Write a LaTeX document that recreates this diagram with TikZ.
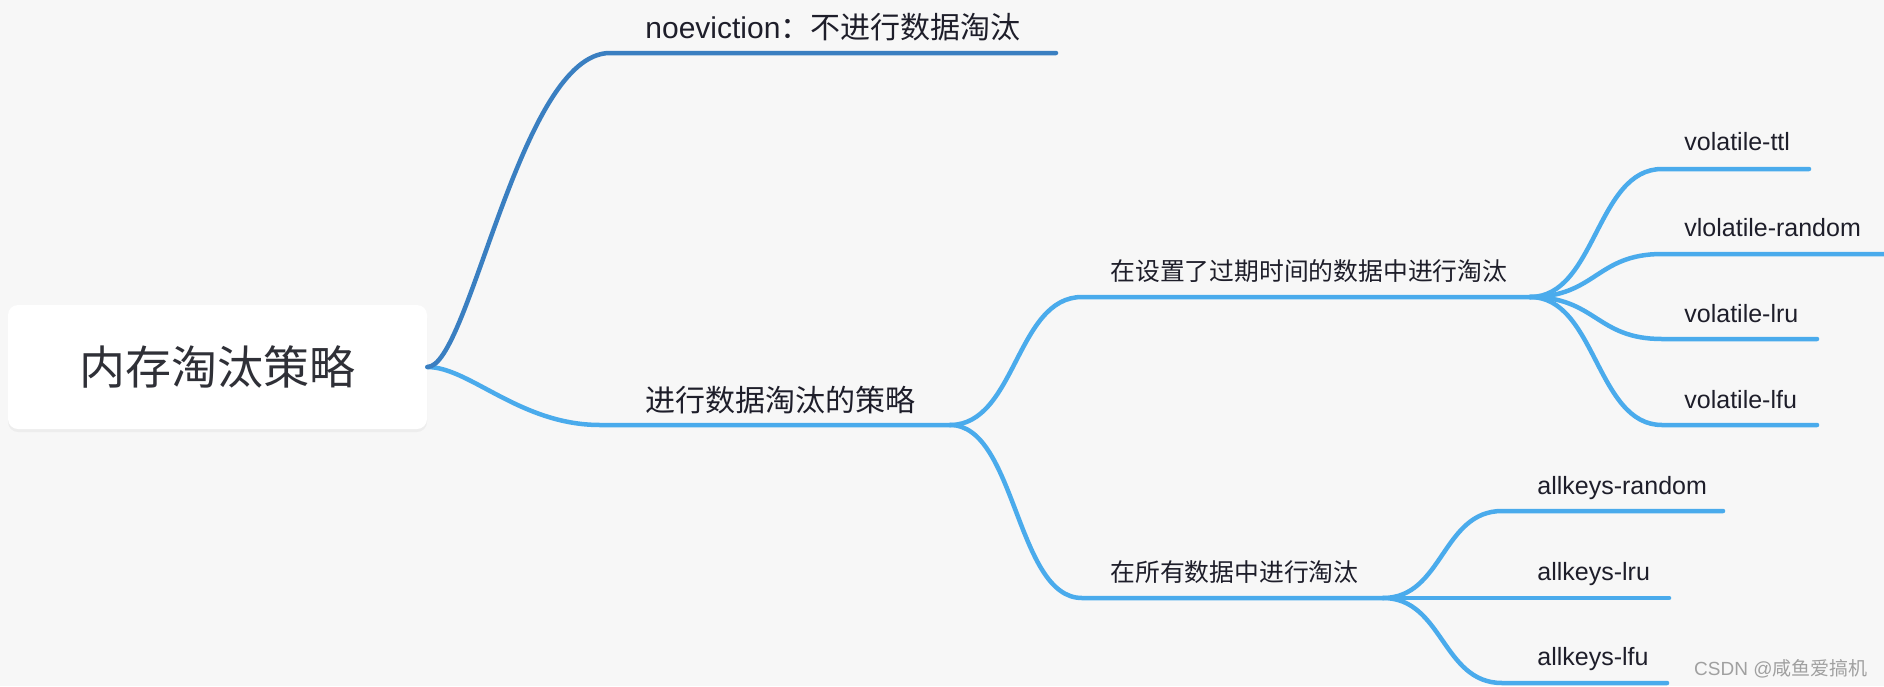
\documentclass[tikz,border=0pt]{standalone}
\usepackage{fontspec}
\setmainfont{Liberation Sans}
\newfontfamily\cjk{Noto Sans CJK SC}
\usetikzlibrary{positioning,shadows}
\definecolor{paper}{HTML}{F7F7F7}
\definecolor{deepblue}{HTML}{3A7FC1}
\definecolor{skyblue}{HTML}{4AABEC}
\definecolor{ink}{HTML}{1E1E2A}
\definecolor{rootink}{HTML}{2F3037}
\definecolor{wmark}{HTML}{A0A0A0}
\tikzset{
  rootcard/.style={rectangle,rounded corners=5pt,fill=white,minimum width=209.5pt,minimum height=62pt,inner sep=0pt,text=rootink,font=\cjk\fontsize{23}{28}\selectfont,drop shadow={opacity=0.08,shadow xshift=0pt,shadow yshift=-1.5pt}},
  topic/.style={anchor=base west,inner sep=0pt,text=ink,font=\cjk\fontsize{15}{18}\selectfont},
  subtopic/.style={anchor=base west,inner sep=0pt,text=ink,font=\cjk\fontsize{12.4}{15}\selectfont},
  leaf/.style={anchor=base west,inner sep=0pt,text=ink,font=\fontsize{12.5}{15}\selectfont},
  twig/.style={line width=2.25pt,line cap=round,skyblue},
  twigdark/.style={twig,deepblue},
  watermark/.style={anchor=base east,inner sep=0pt,text=wmark,font=\fontsize{9.5}{12}\selectfont}
}
\begin{document}
\begin{tikzpicture}[x=0.5pt,y=-0.5pt]
  \fill[paper] (0,0) rectangle (1884,686);
  \useasboundingbox (0,0) rectangle (1884,686);
  \node[rootcard] (root) at (217.5,367) {内存淘汰策略};
  \coordinate (noev-s) at (610,53);
  \coordinate (noev-e) at (1056,53);
  \coordinate (evict-s) at (600,425);
  \coordinate (evict-e) at (950,425);
  \coordinate (vol-s) at (1082,297);
  \coordinate (vol-e) at (1530,297);
  \coordinate (all-s) at (1082,598);
  \coordinate (all-e) at (1383,598);
  \coordinate (vttl-s) at (1662,169);
  \coordinate (vttl-e) at (1809,169);
  \coordinate (vrand-s) at (1662,254);
  \coordinate (vrand-e) at (1892,254);
  \coordinate (vlru-s) at (1662,339);
  \coordinate (vlru-e) at (1817,339);
  \coordinate (vlfu-s) at (1662,425);
  \coordinate (vlfu-e) at (1817,425);
  \coordinate (arand-s) at (1502,511);
  \coordinate (arand-e) at (1723,511);
  \coordinate (alru-e) at (1669,598);
  \coordinate (alfu-s) at (1502,683);
  \coordinate (alfu-e) at (1667,683);
  \draw[twig] (root.east) .. controls +(42,0) and +(-80,0) .. (evict-s) -- (evict-e);
  \draw[twigdark] (root.east) .. controls +(42,0) and +(-90,0) .. (noev-s) -- (noev-e);
  \draw[twig] (evict-e) .. controls +(66,0) and +(-66,0) .. (vol-s) -- (vol-e);
  \draw[twig] (evict-e) .. controls +(66,0) and +(-66,0) .. (all-s) -- (all-e);
  \draw[twig] (vol-e) .. controls +(66,0) and +(-66,0) .. (vttl-s) -- (vttl-e);
  \draw[twig] (vol-e) .. controls +(66,0) and +(-66,0) .. (vrand-s) -- (vrand-e);
  \draw[twig] (vol-e) .. controls +(66,0) and +(-66,0) .. (vlru-s) -- (vlru-e);
  \draw[twig] (vol-e) .. controls +(66,0) and +(-66,0) .. (vlfu-s) -- (vlfu-e);
  \draw[twig] (all-e) .. controls +(60,0) and +(-60,0) .. (arand-s) -- (arand-e);
  \draw[twig] (all-e) -- (alru-e);
  \draw[twig] (all-e) .. controls +(60,0) and +(-60,0) .. (alfu-s) -- (alfu-e);
  \node[topic] (noev) at (645,38) {{\normalfont noeviction}：不进行数据淘汰};
  \node[topic] (evict) at (645,411) {进行数据淘汰的策略};
  \node[subtopic] (vol) at (1110,280) {在设置了过期时间的数据中进行淘汰};
  \node[subtopic] (all) at (1110,581) {在所有数据中进行淘汰};
  \node[leaf] (vttl) at (1684,150) {volatile-ttl};
  \node[leaf] (vrand) at (1684,236) {vlolatile-random};
  \node[leaf] (vlru) at (1684,322) {volatile-lru};
  \node[leaf] (vlfu) at (1684,408) {volatile-lfu};
  \node[leaf] (arand) at (1537,494) {allkeys-random};
  \node[leaf] (alru) at (1537,580) {allkeys-lru};
  \node[leaf] (alfu) at (1537,665) {allkeys-lfu};
  \node[watermark] (csdn) at (1868,675) {CSDN @{\cjk 咸鱼爱搞机}};
\end{tikzpicture}
\end{document}
